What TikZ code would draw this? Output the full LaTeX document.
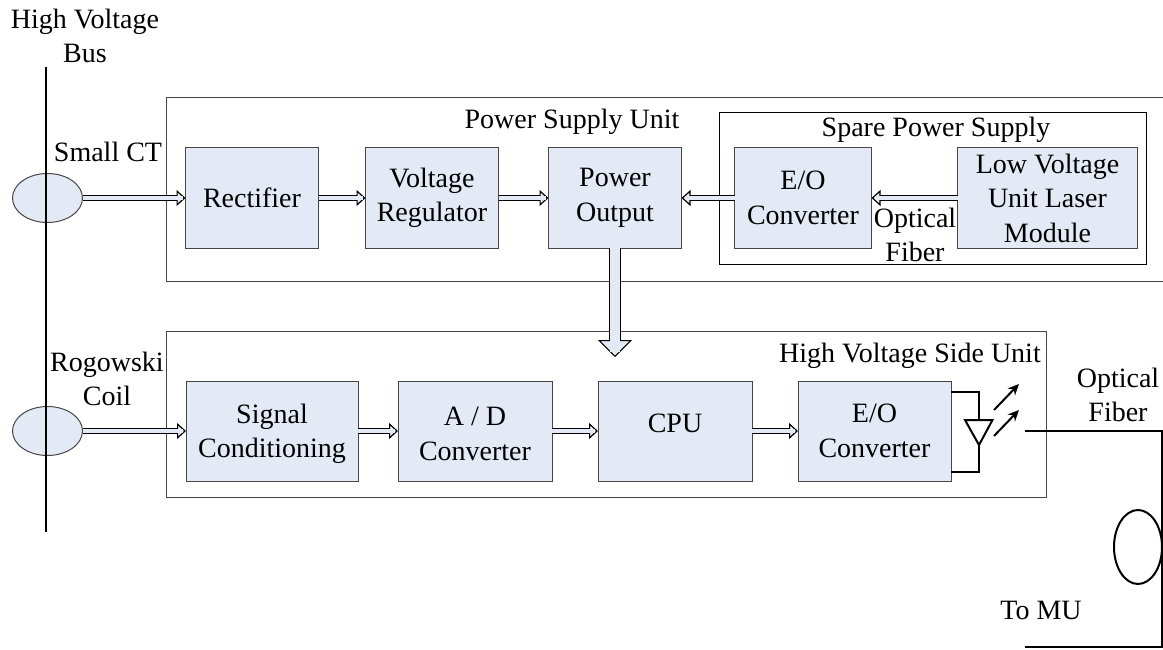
\documentclass[tikz,border=0pt]{standalone}
\usepackage{fontspec}
\setmainfont{Liberation Serif}
\usetikzlibrary{arrows.meta,shapes.geometric}
\usetikzlibrary{positioning}
\definecolor{fg}{rgb}{0,0,0}
\definecolor{boxfill}{RGB}{228,234,245}
\definecolor{boxline}{RGB}{70,70,70}
\tikzstyle{label}=[text=fg, align=center, inner sep=0pt, font=\fontsize{28}{34.5}\selectfont]
\tikzstyle{block}=[label, draw=boxline, line width=1pt, fill=boxfill, minimum height=100pt, outer sep=0pt]
\tikzstyle{sensor}=[draw=boxline, line width=1pt, fill=boxfill, ellipse, minimum width=70pt, minimum height=49pt, inner sep=0pt, outer sep=0pt]
\tikzstyle{frame}=[draw=boxline, line width=1pt]
\tikzstyle{wire}=[draw=fg, line width=2pt]
\tikzstyle{ray}=[wire, -{Stealth[length=11pt,width=10pt]}]
\tikzstyle{flow}=[draw=fg, line width=6.4pt, -{Triangle[length=9pt,width=16pt,line width=1.2pt,fill=boxfill]},
postaction={draw=boxfill, line width=4pt, -, shorten >=3pt}]
\tikzstyle{bigflow}=[draw=fg, line width=12pt, -{Triangle[length=17pt,width=34pt,line width=1pt,fill=boxfill]},
postaction={draw=boxfill, line width=10pt, -, shorten >=5pt}]

\begin{document}
\begin{tikzpicture}[x=1pt, y=-1pt]
    \useasboundingbox (0,0) rectangle (1163,650);

    % units
    \draw[frame] (166,98) rectangle (1166,281);
    \draw[frame] (166,331) rectangle (1046.5,497.5);
    \draw[frame, draw=fg] (719.5,112.5) rectangle (1146,264);

    % power supply row
    \node[block, minimum width=133pt] (rectifier) at (252,198) {Rectifier};
    \node[block, minimum width=133pt, right=47pt of rectifier] (regulator) {Voltage\\Regulator};
    \node[block, minimum width=133pt, right=50pt of regulator] (output) {Power\\Output};
    \node[block, minimum width=137pt, right=53pt of output] (spareeo) {E/O\\Converter};
    \node[block, minimum width=180pt, right=86pt of spareeo] (laser) {Low Voltage\\Unit Laser\\Module};

    % high voltage row
    \node[block, minimum width=172pt, text height=60pt] (signal) at (272,431) {Signal\\Conditioning};
    \node[block, minimum width=154pt, text height=59pt, right=40pt of signal] (adc) {A / D\\Converter};
    \node[block, minimum width=154pt, text depth=16.5pt, right=46pt of adc] (cpu) {CPU};
    \node[block, minimum width=153pt, right=46pt of cpu] (hveo) {E/O\\Converter};

    % sensors on the bus
    \node[sensor] (smallct) at (47.5,198) {};
    \node[sensor] (rogowski) at (47.5,431) {};
    \coordinate (bustop) at (46,67);
    \coordinate (busend) at (46,532);
    \draw[wire] (bustop) -- (busend);

    \draw[flow] (smallct) -- (rectifier);
    \draw[flow] (rectifier) -- (regulator);
    \draw[flow] (regulator) -- (output);
    \draw[flow] (spareeo) -- (output);
    \draw[flow] (laser) -- (spareeo);
    \draw[flow] (rogowski) -- (signal);
    \draw[flow] (signal) -- (adc);
    \draw[flow] (adc) -- (cpu);
    \draw[flow] (cpu) -- (hveo);

    \coordinate[below=109pt of output] (hvfeed);
    \draw[bigflow] (output) -- (hvfeed);

    % LED at the output
    \coordinate (ledtop) at (979,392);
    \coordinate (ledend) at (979,472);
    \draw[wire] (hveo.east |- ledtop) -- (ledtop) -- (ledend) -- (hveo.east |- ledend);
    \draw[wire, fill=white] (965,420) -- (992.5,420) -- (979,445) -- cycle;
    \coordinate (lightA) at (994,410);
    \coordinate (lightB) at (994,436);
    \draw[ray] (lightA) -- ++(25,-26);
    \draw[ray] (lightB) -- ++(25,-26);

    % fiber to MU
    \coordinate (fiberin) at (1025,431);
    \coordinate (fiberbend) at (1162,647);
    \coordinate (fiberout) at (1025,647);
    \draw[wire] (fiberin) -| (fiberbend) -- (fiberout);
    \node[draw=fg, line width=2pt, fill=white, ellipse, minimum width=48pt, minimum height=74pt, inner sep=0pt] (fiberloop) at (1138,547) {};

    % labels
    \node[label] (buslabel) at (85,36) {High Voltage\\Bus};
    \node[label] (ctlabel) at (108,152) {Small CT};
    \node[label] (coillabel) at (107,379) {Rogowski\\Coil};
    \node[label] (powerlabel) at (572,122) {Power Supply Unit};
    \node[label] (sparelabel) at (936,130) {Spare Power Supply};
    \node[label] (sparefiber) at (915,235) {Optical\\Fiber};
    \node[label] (hvlabel) at (910,356) {High Voltage Side Unit};
    \node[label] (fiberlabel) at (1118,395) {Optical\\Fiber};
    \node[label] (mulabel) at (1041,610) {To MU};

\end{tikzpicture}
\end{document}
